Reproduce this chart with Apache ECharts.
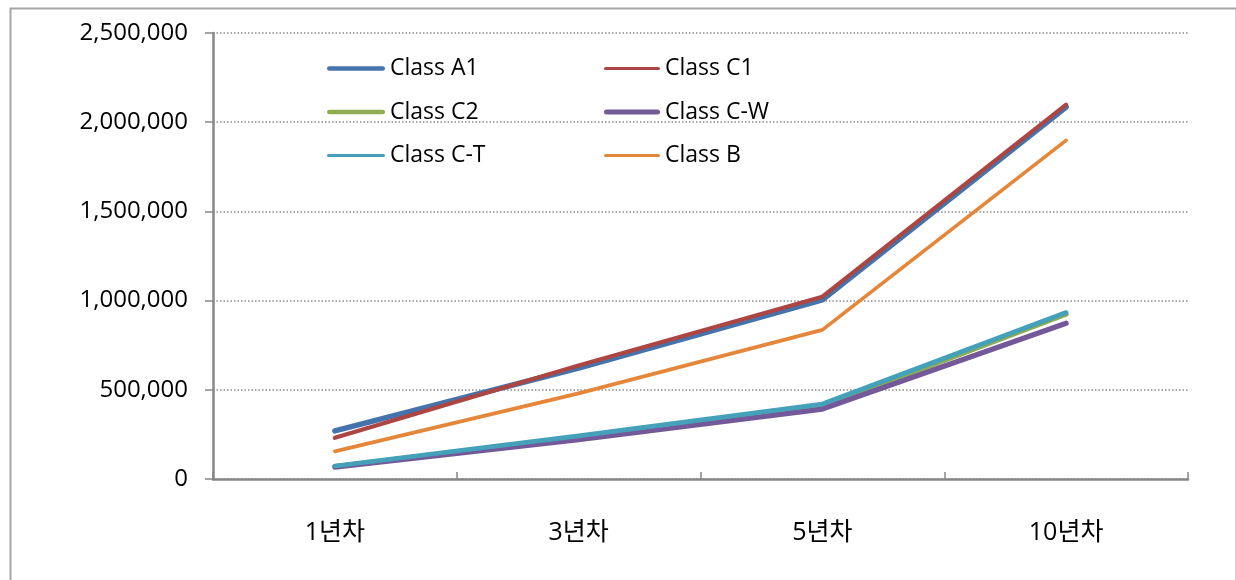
<!DOCTYPE html>
<html>
<head>
<meta charset="utf-8">
<script src="https://cdn.jsdelivr.net/npm/echarts@6/dist/echarts.min.js"></script>
<style>html,body{margin:0;padding:0;background:#fff;}#chart{width:1236px;height:580px;}</style>
</head>
<body>
<div id="chart"></div>
<script>
const categories = ['1년차', '3년차', '5년차', '10년차'];
const yTicks = [0, 500000, 1000000, 1500000, 2000000, 2500000];
const classA1 = [270000, 622000, 1004000, 2085000];
const classC1 = [231000, 636000, 1022000, 2098000];
const classC2 = [70000, 232000, 405000, 924000];
const classCW = [66000, 220000, 392000, 873000];
const classCT = [73000, 242000, 420000, 933000];
const classB = [155000, 480000, 836000, 1898000];
const seriesNames = ['Class A1', 'Class C1', 'Class C2', 'Class C-W', 'Class C-T', 'Class B'];

const colors = ['#4573AB', '#AD4542', '#8DAD4F', '#74599A', '#45A0BA', '#E4873B'];
const widths = [5.5, 4.2, 5, 5.2, 4.7, 3.7];
const legendThick = [4.5, 3.2, 4.5, 5, 3.2, 3.2];
const datas = [classA1, classC1, classC2, classCW, classCT, classB];

function barIcon(w, h) {
  const r = h / 2;
  return 'path://M' + r + ',0 L' + (w - r) + ',0 A' + r + ',' + r + ' 0 0 1 ' + (w - r) + ',' + h +
    ' L' + r + ',' + h + ' A' + r + ',' + r + ' 0 0 1 ' + r + ',0 Z';
}
function legendItem(i, w) {
  return {name: seriesNames[i], icon: barIcon(w, legendThick[i]), itemStyle: {color: colors[i]}};
}

const font = '"Open Sans", "Noto Sans CJK KR", sans-serif';
const chart = echarts.init(document.getElementById('chart'), null, {renderer: 'canvas'});
chart.setOption({
  animation: false,
  backgroundColor: '#fff',
  graphic: [{
    type: 'rect', left: 8, top: 6, silent: true,
    shape: {width: 1226, height: 600},
    style: {fill: 'none', stroke: '#a6a6a6', lineWidth: 2}
  }],
  grid: {left: 213, right: 48, top: 33, bottom: 101, containLabel: false},
  legend: [
    {
      data: [legendItem(0, 58), legendItem(2, 58), legendItem(4, 58)],
      orient: 'vertical', left: 322, top: 52,
      itemWidth: 58, itemHeight: 23, itemGap: 20.5,
      textStyle: {fontFamily: font, fontSize: 23, color: '#000'}
    },
    {
      data: [legendItem(1, 56), legendItem(3, 56), legendItem(5, 56)],
      orient: 'vertical', left: 599, top: 52,
      itemWidth: 56, itemHeight: 23, itemGap: 20.5,
      textStyle: {fontFamily: font, fontSize: 23, color: '#000'}
    }
  ],
  xAxis: {
    type: 'category', data: categories, boundaryGap: true,
    axisLine: {lineStyle: {color: '#868686', width: 2.5}},
    axisTick: {show: true, inside: true, length: 7, alignWithLabel: false, lineStyle: {color: '#868686', width: 1.5}},
    axisLabel: {fontFamily: font, fontSize: 25, color: '#000', margin: 41},
    splitLine: {show: false}
  },
  yAxis: {
    type: 'value', min: 0, max: 2500000, interval: 500000,
    axisLine: {show: true, lineStyle: {color: '#868686', width: 2.5}},
    axisTick: {show: true, length: 8, lineStyle: {color: '#868686', width: 1.5}},
    axisLabel: {
      fontFamily: font, fontSize: 24, color: '#000', margin: 25,
      formatter: v => v.toLocaleString('en-US')
    },
    splitLine: {show: true, lineStyle: {color: '#8c8c8c', width: 1.5, type: [1.5, 2]}}
  },
  series: seriesNames.map((name, i) => ({
    name: name, type: 'line', data: datas[i],
    symbol: 'none', smooth: false,
    color: colors[i],
    itemStyle: {color: colors[i]},
    lineStyle: {color: colors[i], width: widths[i], cap: 'round', join: 'round'},
    z: 2 + i
  }))
});
</script>
</body>
</html>
